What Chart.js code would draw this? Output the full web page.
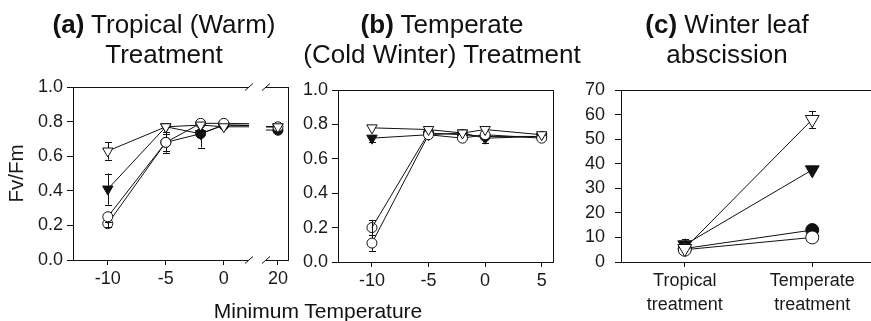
<!DOCTYPE html>
<html>
<head>
<meta charset="utf-8">
<title>Fv/Fm and winter leaf abscission</title>
<script src="https://cdn.jsdelivr.net/npm/chart.js@4.4.1/dist/chart.umd.min.js"></script>
<style>
    html, body {
        margin: 0;
        padding: 0;
        width: 871px;
        height: 321px;
        overflow: hidden;
        background: #fff;
        font-family: "Liberation Sans", Arial, sans-serif;
        color: #111;
    }
    canvas {
        position: absolute;
        top: 0;
    }
    .title {
        position: absolute;
        top: 9px;
        width: 320px;
        text-align: center;
        font-size: 26px;
        line-height: 30px;
        white-space: nowrap;
    }
    #xTitle {
        position: absolute;
        left: 168px;
        top: 299px;
        width: 300px;
        text-align: center;
        font-size: 21px;
        line-height: 24px;
    }
</style>
</head>
<body>
    <canvas id="chartA" width="256" height="300" style="left:0"></canvas>
    <canvas id="chartA20" width="40" height="300" style="left:255px"></canvas>
    <canvas id="chartB" width="270" height="302" style="left:290px"></canvas>
    <canvas id="chartC" width="310" height="322" style="left:575px"></canvas>

    <div class="title" style="left:4px"><b>(a)</b> Tropical (Warm)<br>Treatment</div>
    <div class="title" style="left:282px"><b>(b)</b> Temperate<br>(Cold Winter) Treatment</div>
    <div class="title" style="left:567px"><b>(c)</b> Winter leaf<br>abscission</div>
    <div id="xTitle">Minimum Temperature</div>

    <script>
        // (a) tropical treatment, Fv/Fm by minimum temperature
        const tempsA = [-10, -5, -2, 0, 20];
        const openTriA = [0.63, 0.77, 0.78, 0.77, 0.77];
        const openCircA = [0.25, 0.68, 0.79, 0.79, 0.77];
        const fillTriA = [0.41, 0.77, 0.73, 0.78, 0.77];
        const fillCircA = [0.21, 0.68, 0.73, 0.78, 0.75];
        const openTriErrA = [0.05, 0, 0, 0, 0];
        const openCircErrA = [0.03, 0.06, 0, 0, 0];
        const fillTriErrA = [0.09, 0, 0, 0, 0];
        const fillCircErrA = [0.02, 0.05, 0.08, 0, 0];

        // (b) temperate treatment
        const tempsB = [-10, -5, -2, 0, 5];
        const openTriB = [0.78, 0.77, 0.75, 0.77, 0.74];
        const openCircB = [0.11, 0.74, 0.72, 0.74, 0.72];
        const fillTriB = [0.72, 0.74, 0.75, 0.72, 0.73];
        const fillCircB = [0.20, 0.75, 0.74, 0.73, 0.73];
        const openTriErrB = [0, 0, 0, 0, 0];
        const openCircErrB = [0.045, 0, 0, 0, 0];
        const fillTriErrB = [0.02, 0, 0, 0.03, 0];
        const fillCircErrB = [0.045, 0, 0, 0, 0];

        // (c) winter leaf abscission (%)
        const treatments = [['Tropical', 'treatment'], ['Temperate', 'treatment']];
        const openTriC = [5.5, 58];
        const openCircC = [5, 10];
        const fillTriC = [7, 37.5];
        const fillCircC = [5.5, 13];
        const openTriErrC = [0, 3.5];
        const fillTriErrC = [2.5, 0];

        // axis ticks
        const fvTicks = [0, 0.2, 0.4, 0.6, 0.8, 1.0];
        const tempTicksA = [-10, -5, 0];
        const tempTicksA20 = [20];
        const tempTicksB = [-10, -5, 0, 5];
        const abscTicks = [0, 10, 20, 30, 40, 50, 60, 70];

        const INK = '#111';
        Chart.defaults.font.family = '"Liberation Sans", Arial, sans-serif';
        Chart.defaults.color = '#1a1a1a';
        Chart.defaults.animation = false;
        Chart.defaults.events = [];
        Chart.defaults.plugins.legend.display = false;
        Chart.defaults.plugins.tooltip.enabled = false;

        // box lines the axes don't draw, plus the // marks of the broken axis
        const frame = {
            id: 'frame',
            afterDraw(chart, args, opts) {
                const ctx = chart.ctx;
                const a = chart.chartArea;
                ctx.save();
                ctx.strokeStyle = INK;
                ctx.lineWidth = 1;
                ctx.beginPath();
                ctx.moveTo(a.left, Math.round(a.top) + 0.5);
                ctx.lineTo(a.right, Math.round(a.top) + 0.5);
                if (opts.right) {
                    ctx.moveTo(Math.round(a.right) + 0.5, a.top);
                    ctx.lineTo(Math.round(a.right) + 0.5, a.bottom);
                }
                ctx.stroke();
                if (opts.breakAt) {
                    const x = opts.breakAt === 'right' ? a.right : a.left;
                    ctx.strokeStyle = '#fff';
                    ctx.lineWidth = 3;
                    ctx.beginPath();
                    [a.top, a.bottom].forEach(y => {
                        ctx.moveTo(x + (opts.breakAt === 'right' ? 0 : -4), y);
                        ctx.lineTo(x + (opts.breakAt === 'right' ? 4 : 0), y);
                    });
                    ctx.stroke();
                    ctx.strokeStyle = INK;
                    ctx.lineWidth = 1;
                    ctx.beginPath();
                    [a.top, a.bottom].forEach(y => {
                        ctx.moveTo(x - 4, y + 3.5);
                        ctx.lineTo(x + 4, y - 3.5);
                    });
                    ctx.stroke();
                }
                ctx.restore();
            }
        };

        // vertical error bars with caps, drawn under the markers
        const errorBars = {
            id: 'errorBars',
            beforeDatasetsDraw(chart, args, opts) {
                const ctx = chart.ctx;
                const a = chart.chartArea;
                const xs = chart.scales.x, ys = chart.scales.y;
                const cap = opts.cap || 3.5;
                ctx.save();
                ctx.beginPath();
                ctx.rect(a.left, a.top, a.right - a.left, a.bottom - a.top);
                ctx.clip();
                ctx.strokeStyle = INK;
                ctx.lineWidth = 1;
                chart.data.datasets.forEach((ds, i) => {
                    if (!ds.errors) return;
                    const meta = chart.getDatasetMeta(i);
                    ds.errors.forEach((e, j) => {
                        const p = meta.controller.getParsed(j);
                        if (!e || !p || p.y == null) return;
                        const x = Math.round(xs.getPixelForValue(p.x)) + 0.5;
                        const y1 = ys.getPixelForValue(p.y + e);
                        const y2 = ys.getPixelForValue(p.y - e);
                        ctx.beginPath();
                        ctx.moveTo(x, y1);
                        ctx.lineTo(x, y2);
                        ctx.moveTo(x - cap, Math.round(y1) + 0.5);
                        ctx.lineTo(x + cap, Math.round(y1) + 0.5);
                        ctx.moveTo(x - cap, Math.round(y2) + 0.5);
                        ctx.lineTo(x + cap, Math.round(y2) + 0.5);
                        ctx.stroke();
                    });
                });
                ctx.restore();
            }
        };

        function series(xs, ys, errs, kind, size, extra) {
            const tri = kind.endsWith('Tri');
            const filled = kind.startsWith('fill');
            return Object.assign({
                data: xs ? xs.map((x, i) => ({ x: x, y: ys[i] })) : ys,
                errors: errs,
                borderColor: INK,
                borderWidth: 1,
                fill: false,
                tension: 0,
                pointStyle: tri ? 'triangle' : 'circle',
                pointRotation: tri ? 180 : 0,
                pointRadius: tri ? size.tri : size.circ,
                pointBorderColor: INK,
                pointBorderWidth: 1,
                pointBackgroundColor: filled ? INK : '#fff'
            }, extra || {});
        }

        function yAxis(ticks, width, pad, fmt, extra) {
            return Object.assign({
                min: ticks[0],
                max: ticks[ticks.length - 1],
                afterBuildTicks: ax => { ax.ticks = ticks.map(v => ({ value: v })); },
                afterFit: ax => { ax.width = width; },
                grid: { drawOnChartArea: false, tickLength: 6, color: INK },
                border: { color: INK },
                ticks: { padding: pad, font: { size: 18 }, autoSkip: false, callback: fmt }
            }, extra || {});
        }

        function xLinear(ticks, min, max, height) {
            return {
                type: 'linear',
                min: min,
                max: max,
                afterBuildTicks: ax => { ax.ticks = ticks.map(v => ({ value: v })); },
                afterFit: ax => { ax.height = height; },
                grid: { drawOnChartArea: false, tickLength: 5, color: INK },
                border: { color: INK },
                ticks: { padding: 3, font: { size: 18 }, maxRotation: 0, autoSkip: false, callback: v => String(v) }
            };
        }

        const small = { tri: 6, circ: 5 };
        const large = { tri: 8, circ: 6.5 };
        const fvFmt = v => v.toFixed(1);

        function panelADatasets() {
            // open look for the -10 filled-circle point, lines clipped at the axis break
            return [
                series(tempsA, openTriA, openTriErrA, 'openTri', small, { clip: 0 }),
                series(tempsA, openCircA, openCircErrA, 'openCirc', small, { clip: 0 }),
                series(tempsA, fillTriA, fillTriErrA, 'fillTri', small, { clip: 0 }),
                series(tempsA, fillCircA, fillCircErrA, 'fillCirc', small, {
                    clip: 0,
                    pointBackgroundColor: ['rgba(255,255,255,0)', INK, INK, INK, INK]
                })
            ];
        }

        new Chart(document.getElementById('chartA'), {
            type: 'line',
            data: { datasets: panelADatasets() },
            options: {
                responsive: false,
                layout: { padding: { left: 0, top: 87, right: 7, bottom: 0 } },
                scales: {
                    x: xLinear(tempTicksA, -13, 2.17, 40),
                    y: yAxis(fvTicks, 73, 4, fvFmt, {
                        title: { display: true, text: 'Fv/Fm', font: { size: 20.5 }, padding: { top: 5, bottom: 0 } }
                    })
                },
                plugins: { frame: { breakAt: 'right' }, errorBars: { cap: 3.5 } }
            },
            plugins: [frame, errorBars]
        });

        new Chart(document.getElementById('chartA20'), {
            type: 'line',
            data: { datasets: panelADatasets() },
            options: {
                responsive: false,
                layout: { padding: { left: 11, top: 87, right: 7, bottom: 0 } },
                scales: {
                    x: xLinear(tempTicksA20, 18.97, 20.87, 40),
                    y: { min: 0, max: 1, display: false }
                },
                plugins: { frame: { right: true, breakAt: 'left' }, errorBars: { cap: 3.5 } }
            },
            plugins: [frame, errorBars]
        });

        new Chart(document.getElementById('chartB'), {
            type: 'line',
            data: {
                datasets: [
                    series(tempsB, openTriB, openTriErrB, 'openTri', small),
                    series(tempsB, openCircB, openCircErrB, 'openCirc', small),
                    series(tempsB, fillTriB, fillTriErrB, 'fillTri', small),
                    series(tempsB, fillCircB, fillCircErrB, 'fillCirc', small, {
                        pointBackgroundColor: ['rgba(255,255,255,0)', INK, INK, INK, INK]
                    })
                ]
            },
            options: {
                responsive: false,
                layout: { padding: { left: 0, top: 90, right: 7, bottom: 0 } },
                scales: {
                    x: xLinear(tempTicksB, -13, 6, 40),
                    y: yAxis(fvTicks, 48, 4, fvFmt)
                },
                plugins: { frame: { right: true }, errorBars: { cap: 3.5 } }
            },
            plugins: [frame, errorBars]
        });

        new Chart(document.getElementById('chartC'), {
            type: 'line',
            data: {
                labels: treatments,
                datasets: [
                    series(null, openTriC, openTriErrC, 'openTri', large),
                    series(null, openCircC, null, 'openCirc', large),
                    series(null, fillTriC, fillTriErrC, 'fillTri', large),
                    series(null, fillCircC, null, 'fillCirc', large)
                ]
            },
            options: {
                responsive: false,
                layout: { padding: { left: 0, top: 90, right: 8, bottom: 0 } },
                scales: {
                    x: {
                        type: 'category',
                        offset: true,
                        afterFit: ax => { ax.height = 60; },
                        grid: { drawOnChartArea: false, offset: false, tickLength: 5, color: INK },
                        border: { color: INK },
                        ticks: { padding: 3, font: { size: 18, lineHeight: 1.28 }, maxRotation: 0, autoSkip: false }
                    },
                    y: yAxis(abscTicks, 46, 10, v => String(v))
                },
                plugins: { frame: { right: true }, errorBars: { cap: 3.5 } }
            },
            plugins: [frame, errorBars]
        });
    </script>
</body>
</html>
